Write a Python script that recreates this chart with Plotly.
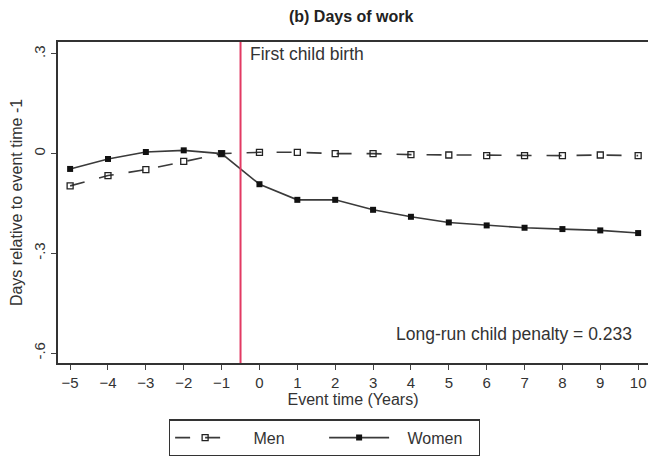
import plotly.graph_objects as go

event_time = list(range(-5, 11))
tick_vals_y = [0.3, 0, -0.3, -0.6]
tick_text_y = [".3", "0", "-.3", "-.6"]
men = [-0.097, -0.066, -0.048, -0.023, 0.0, 0.004, 0.004, 0.0, 0.0,
       -0.003, -0.004, -0.006, -0.006, -0.006, -0.004, -0.006]
women = [-0.046, -0.016, 0.005, 0.010, 0.0, -0.092, -0.139, -0.139, -0.169,
         -0.190, -0.207, -0.216, -0.223, -0.227, -0.231, -0.239]
birth_line = -0.5
penalty_text = "Long-run child penalty = 0.233"

FONT = "Liberation Sans, Arial, sans-serif"
NB = "\u00a0\u00a0\u00a0"
fig = go.Figure()
fig.add_trace(go.Scatter(
    x=event_time, y=men, mode="lines+markers", name=NB + "Men",
    line=dict(color="#3a3a3a", width=1.6, dash="longdash"),
    marker=dict(symbol="square-open", size=6, color="#222", line=dict(width=1.3))))
fig.add_trace(go.Scatter(
    x=event_time, y=women, mode="lines+markers", name=NB + "Women",
    line=dict(color="#3a3a3a", width=1.6),
    marker=dict(symbol="square", size=6, color="#111")))

fig.add_shape(type="line", xref="x", yref="paper", x0=birth_line, x1=birth_line,
              y0=0, y1=1, line=dict(color="#e23a63", width=2))
fig.add_annotation(x=birth_line, y=0.3, xref="x", yref="y", text="First child birth",
                   showarrow=False, xanchor="left", yanchor="middle", xshift=7,
                   font=dict(size=17.5, color="#333", family=FONT))
fig.add_annotation(x=10.0, y=-0.542, xref="x", yref="y", text=penalty_text,
                   showarrow=False, xanchor="right", yanchor="middle", xshift=-4,
                   font=dict(size=17.5, color="#333", family=FONT))

fig.update_layout(
    width=648, height=457,
    margin=dict(l=58, r=0, t=42, b=91),
    paper_bgcolor="white", plot_bgcolor="white",
    font=dict(family=FONT, size=15, color="#333"),
    title=dict(text="<b>(b) Days of work</b>", x=0.542, xanchor="center", y=0.965, yanchor="middle",
               font=dict(size=16, color="#222", family=FONT)),
    showlegend=True,
    legend=dict(orientation="h", x=0.188, xanchor="left", y=-0.176, yanchor="top",
                bordercolor="#333", borderwidth=1.2, font=dict(size=16),
                itemwidth=60, entrywidth=79, tracegroupgap=0),
)
fig.update_xaxes(range=[-5.32, 10.26], tickmode="array", tickvals=event_time,
                 ticks="outside", ticklen=5, tickcolor="#444", automargin=False,
                 showline=True, linecolor="#333", linewidth=2, mirror=True,
                 showgrid=False, zeroline=False, tickfont=dict(size=15),
                 title=dict(text="Event time (Years)", font=dict(size=16), standoff=2))
fig.update_yaxes(range=[-0.63, 0.336], tickmode="array", tickvals=tick_vals_y,
                 ticktext=tick_text_y, tickangle=-90, automargin=False,
                 ticks="outside", ticklen=5, tickcolor="#444",
                 showline=True, linecolor="#333", linewidth=2,
                 showgrid=False, zeroline=False, tickfont=dict(size=15),
                 title=dict(text="Days relative to event time -1", font=dict(size=16), standoff=4))
fig.write_html("out.html", config={"displayModeBar": False},
               post_script="document.body.style.margin='0';document.body.style.overflow='hidden';")
